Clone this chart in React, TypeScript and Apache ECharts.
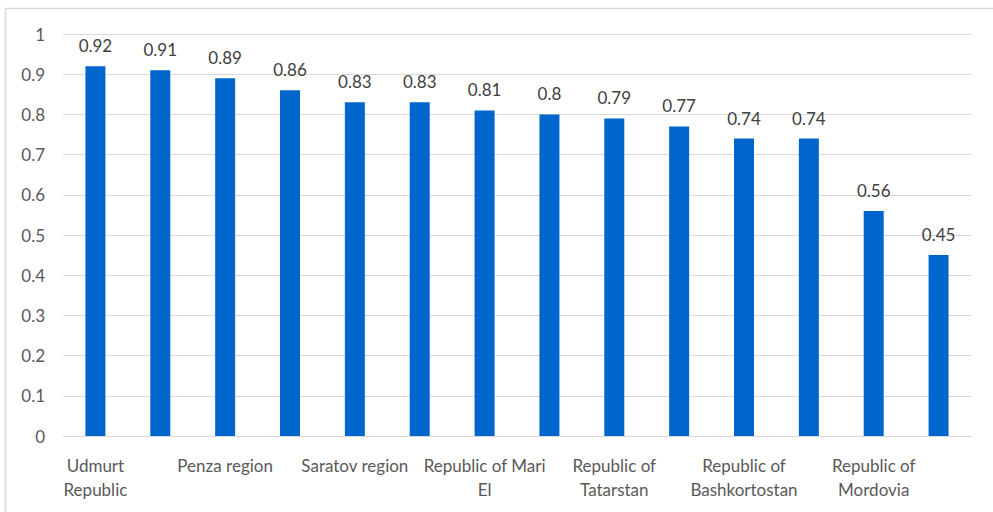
import React, { useEffect, useRef } from "react";
import * as echarts from "echarts";

const categories = [
  "Udmurt Republic",
  "Perm Krai",
  "Penza region",
  "Kirov region",
  "Saratov region",
  "Nizhny Novgorod region",
  "Republic of Mari El",
  "Samara region",
  "Republic of Tatarstan",
  "Orenburg region",
  "Republic of Bashkortostan",
  "Ulyanovsk region",
  "Republic of Mordovia",
  "Chuvash Republic",
];
const values = [0.92, 0.91, 0.89, 0.86, 0.83, 0.83, 0.81, 0.8, 0.79, 0.77, 0.74, 0.74, 0.56, 0.45];
const wrappedLabels: Record<string, string> = {
  "Udmurt Republic": "Udmurt\nRepublic",
  "Penza region": "Penza region",
  "Saratov region": "Saratov region",
  "Republic of Mari El": "Republic of Mari\nEl",
  "Republic of Tatarstan": "Republic of\nTatarstan",
  "Republic of Bashkortostan": "Republic of\nBashkortostan",
  "Republic of Mordovia": "Republic of\nMordovia",
};

const FONT = "Lato, 'Open Sans', sans-serif";

export default function App() {
  const ref = useRef<HTMLDivElement>(null);
  useEffect(() => {
    if (!ref.current) return;
    const chart = echarts.init(ref.current, undefined, { renderer: "svg" });
    chart.setOption({
      animation: false,
      backgroundColor: "#ffffff",
      grid: { left: 63, right: 22, top: 34, bottom: 76, containLabel: false },
      xAxis: {
        type: "category",
        data: categories,
        axisLine: { show: true, lineStyle: { color: "#d9d9d9", width: 1 } },
        axisTick: { show: false },
        axisLabel: {
          interval: 1,
          margin: 17,
          color: "#595959",
          fontFamily: FONT,
          fontSize: 17,
          lineHeight: 24,
          formatter: (v: string) => wrappedLabels[v] ?? v,
        },
      },
      yAxis: {
        type: "value",
        min: 0,
        max: 1,
        interval: 0.1,
        axisLine: { show: false },
        axisTick: { show: false },
        splitLine: { lineStyle: { color: "#d9d9d9", width: 1 } },
        axisLabel: {
          margin: 18,
          color: "#595959",
          fontFamily: FONT,
          fontSize: 17,
          formatter: (v: number) => String(Math.round(v * 10) / 10),
        },
      },
      series: [
        {
          type: "bar",
          data: values,
          barWidth: 20,
          itemStyle: { color: "#0066cc" },
          label: {
            show: true,
            position: "top",
            distance: 12,
            color: "#404040",
            fontFamily: FONT,
            fontSize: 17,
            formatter: (p: any) => String(p.value),
          },
        },
      ],
      graphic: [
        { type: "line", shape: { x1: 5, y1: 8.5, x2: 993, y2: 8.5 }, style: { stroke: "#d9d9d9", lineWidth: 1.5 } },
        { type: "line", shape: { x1: 5.5, y1: 8, x2: 5.5, y2: 512 }, style: { stroke: "#d9d9d9", lineWidth: 1.5 } },
      ],
    });
    return () => chart.dispose();
  }, []);
  return (
    <div
      ref={ref}
      style={{ position: "absolute", left: 0, top: 0, width: 993, height: 512 }}
    />
  );
}
